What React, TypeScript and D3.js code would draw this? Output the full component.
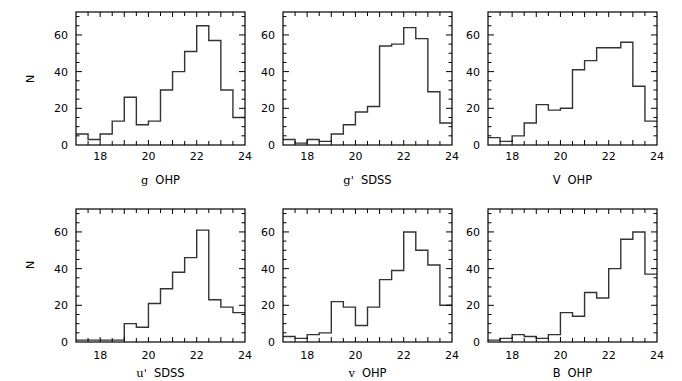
import React, { useEffect, useRef } from 'react'
import * as d3 from 'd3'

// bin left edges (mag), width 0.5
const binEdges = [17, 17.5, 18, 18.5, 19, 19.5, 20, 20.5, 21, 21.5, 22, 22.5, 23, 23.5]
const binWidth = 0.5

const gOHP = [6, 3, 6, 13, 26, 11, 13, 30, 40, 51, 65, 57, 30, 15]
const gSDSS = [3, 1, 3, 2, 6, 11, 18, 21, 54, 55, 64, 58, 29, 12]
const VOHP = [4, 2, 5, 12, 22, 19, 20, 41, 46, 53, 53, 56, 32, 13]
const uSDSS = [1, 1, 1, 1, 10, 8, 21, 29, 38, 46, 61, 23, 19, 16]
const vOHP = [3, 2, 4, 5, 22, 19, 9, 19, 34, 39, 60, 50, 42, 20]
const BOHP = [1, 2, 4, 3, 2, 4, 16, 14, 27, 24, 40, 56, 60, 37]

const panelLabels = ['g OHP', "g' SDSS", 'V OHP', "u' SDSS", 'v OHP', 'B OHP']
const panelData = [gOHP, gSDSS, VOHP, uSDSS, vOHP, BOHP]

const xTickLabels = [18, 20, 22, 24]
const yTickLabels = [0, 20, 40, 60]

const W = 682
const H = 381

function App() {
  const ref = useRef<SVGSVGElement>(null)

  useEffect(() => {
    const svg = d3.select(ref.current)
    svg.selectAll('*').remove()

    const pw = 169
    const lefts = [76, 283, 488]
    const rows = [
      { top: 12, bottom: 145, nY: 79, tickDy: 15, lblDy: 39 },
      { top: 209, bottom: 342, nY: 265, tickDy: 17, lblDy: 35 },
    ]
    const sans = 'DejaVu Sans, Verdana, sans-serif'
    const serif = 'DejaVu Serif, Liberation Serif, serif'

    panelData.forEach((vals, i) => {
      const col = i % 3
      const row = rows[Math.floor(i / 3)]
      const x = d3.scaleLinear().domain([17, 24]).range([lefts[col], lefts[col] + pw])
      const y = d3.scaleLinear().domain([0, 72.5]).range([row.bottom, row.top])
      const g = svg.append('g')

      // histogram as a step line
      const pts: [number, number][] = []
      vals.forEach((v, j) => {
        pts.push([binEdges[j], v])
        pts.push([binEdges[j] + binWidth, v])
      })
      const line = d3.line<[number, number]>()
        .x(d => x(d[0]))
        .y(d => y(d[1]))
      g.append('path')
        .attr('d', line(pts))
        .attr('fill', 'none')
        .attr('stroke', '#333')
        .attr('stroke-width', 1.4)

      // frame
      g.append('rect')
        .attr('x', x(17)).attr('y', y(72.5))
        .attr('width', x(24) - x(17)).attr('height', y(0) - y(72.5))
        .attr('fill', 'none').attr('stroke', '#000').attr('stroke-width', 1.2)

      // x ticks every 0.5, on bottom and top
      d3.range(17.5, 24, 0.5).forEach(t => {
        const len = Number.isInteger(t) ? 5 : 4
        g.append('line').attr('x1', x(t)).attr('x2', x(t))
          .attr('y1', y(0)).attr('y2', y(0) - len).attr('stroke', '#000')
        g.append('line').attr('x1', x(t)).attr('x2', x(t))
          .attr('y1', y(72.5)).attr('y2', y(72.5) + len).attr('stroke', '#000')
      })
      // y ticks every 5, on left and right
      d3.range(5, 72.5, 5).forEach(t => {
        const len = t % 20 === 0 ? 6 : 3.5
        g.append('line').attr('x1', x(17)).attr('x2', x(17) + len)
          .attr('y1', y(t)).attr('y2', y(t)).attr('stroke', '#000')
        g.append('line').attr('x1', x(24)).attr('x2', x(24) - len)
          .attr('y1', y(t)).attr('y2', y(t)).attr('stroke', '#000')
      })

      // tick labels
      xTickLabels.forEach(t => {
        g.append('text')
          .attr('x', x(t)).attr('y', row.bottom + row.tickDy)
          .attr('text-anchor', 'middle')
          .style('font-family', sans).style('font-size', '11px')
          .text(t)
      })
      yTickLabels.forEach(t => {
        g.append('text')
          .attr('x', x(17) - 8).attr('y', y(t) + 4)
          .attr('text-anchor', 'end')
          .style('font-family', sans).style('font-size', '11px')
          .text(t)
      })

      // axis title: lowercase band in serif, rest in sans
      const [band, sys] = panelLabels[i].split(' ')
      const lbl = g.append('text')
        .attr('x', x(20.5)).attr('y', row.bottom + row.lblDy)
        .attr('text-anchor', 'middle')
        .style('font-size', '11.5px')
      lbl.append('tspan')
        .style('font-family', /[a-z]/.test(band) ? serif : sans)
        .text(band)
      lbl.append('tspan')
        .style('font-family', sans)
        .attr('dx', 7)
        .text(sys)

      if (col === 0) {
        g.append('text')
          .attr('transform', `translate(34, ${row.nY}) rotate(-90)`)
          .attr('text-anchor', 'middle')
          .style('font-family', sans).style('font-size', '11px')
          .text('N')
      }
    })
  }, [])

  return (
    <svg ref={ref} width={W} height={H}
      style={{ position: 'absolute', left: 0, top: 0, background: 'white' }} />
  )
}

export default App
